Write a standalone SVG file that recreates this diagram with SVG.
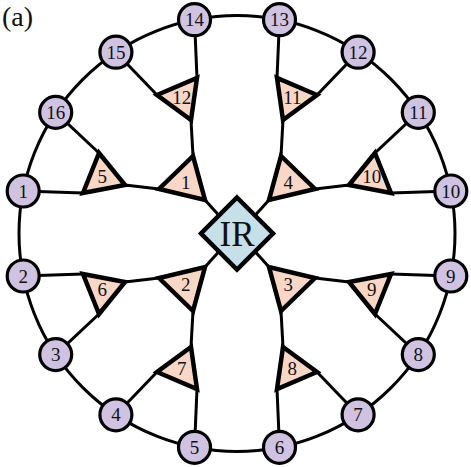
<svg xmlns="http://www.w3.org/2000/svg" width="471" height="467" viewBox="0 0 471 467">
<style>
.ln{stroke:#000;stroke-width:3;fill:none}
.nd circle{fill:#d0c3e2;stroke:#000;stroke-width:3.2}
.tr polygon{fill:#f8d7c7;stroke:#000;stroke-width:4.5;stroke-linejoin:miter}
.t{font-family:"Liberation Serif","Times New Roman",serif;font-size:19px;text-anchor:middle;fill:#111}
</style>
<rect width="471" height="467" fill="#fff"/>
<text x="2" y="26" style="font-family:'Liberation Serif',serif;font-size:28px;fill:#111">(a)</text>
<g id="connectors" class="ln">
<circle cx="237" cy="233.5" r="218"/>
<line x1="23.2" y1="191" x2="83" y2="193"/>
<line x1="125" y1="185" x2="159" y2="189"/>
<line x1="55.7" y1="112.4" x2="99" y2="153"/>
<line x1="115.9" y1="52.2" x2="157" y2="95"/>
<line x1="194.5" y1="19.7" x2="197" y2="78"/>
<line x1="191" y1="120" x2="193" y2="156"/>
<line x1="205" y1="200" x2="219" y2="215.5"/>
<line x1="450.8" y1="191" x2="391" y2="193"/>
<line x1="349" y1="185" x2="315" y2="189"/>
<line x1="418.3" y1="112.4" x2="375" y2="153"/>
<line x1="358.1" y1="52.2" x2="317" y2="95"/>
<line x1="279.5" y1="19.7" x2="277" y2="78"/>
<line x1="283" y1="120" x2="281" y2="156"/>
<line x1="269" y1="200" x2="255" y2="215.5"/>
<line x1="23.2" y1="276" x2="83" y2="274"/>
<line x1="125" y1="282" x2="159" y2="278"/>
<line x1="55.7" y1="354.6" x2="99" y2="314"/>
<line x1="115.9" y1="414.8" x2="157" y2="372"/>
<line x1="194.5" y1="447.3" x2="197" y2="389"/>
<line x1="191" y1="347" x2="193" y2="311"/>
<line x1="205" y1="267" x2="219" y2="251.5"/>
<line x1="450.8" y1="276" x2="391" y2="274"/>
<line x1="349" y1="282" x2="315" y2="278"/>
<line x1="418.3" y1="354.6" x2="375" y2="314"/>
<line x1="358.1" y1="414.8" x2="317" y2="372"/>
<line x1="279.5" y1="447.3" x2="277" y2="389"/>
<line x1="283" y1="347" x2="281" y2="311"/>
<line x1="269" y1="267" x2="255" y2="251.5"/>
</g>
<g id="IR">
<polygon points="237,197.5 273,233.5 237,269.5 201,233.5" fill="#c6dfe9" stroke="#000" stroke-width="4.5"/>
<text x="237" y="245.5" style="font-family:'Liberation Serif',serif;font-size:35px;text-anchor:middle;fill:#111">IR</text>
</g>
<g id="t1" class="tr"><polygon points="193,156 159,189 205,200"/><text class="t" x="185.7" y="188.5">1</text></g>
<g id="t5" class="tr"><polygon points="99,153 83,193 125,185"/><text class="t" x="102.3" y="183">5</text></g>
<g id="t12" class="tr"><polygon points="157,95 197,78 191,120"/><text class="t" x="181.7" y="104">12</text></g>
<g id="t4" class="tr"><polygon points="281,156 315,189 269,200"/><text class="t" x="288.3" y="188.5">4</text></g>
<g id="t10" class="tr"><polygon points="375,153 391,193 349,185"/><text class="t" x="371.7" y="183">10</text></g>
<g id="t11" class="tr"><polygon points="317,95 277,78 283,120"/><text class="t" x="292.3" y="104">11</text></g>
<g id="t2" class="tr"><polygon points="193,311 159,278 205,267"/><text class="t" x="185.7" y="291">2</text></g>
<g id="t6" class="tr"><polygon points="99,314 83,274 125,282"/><text class="t" x="102.3" y="296">6</text></g>
<g id="t7" class="tr"><polygon points="157,372 197,389 191,347"/><text class="t" x="181.7" y="375">7</text></g>
<g id="t3" class="tr"><polygon points="281,311 315,278 269,267"/><text class="t" x="288.3" y="291">3</text></g>
<g id="t9" class="tr"><polygon points="375,314 391,274 349,282"/><text class="t" x="371.7" y="296">9</text></g>
<g id="t8" class="tr"><polygon points="317,372 277,389 283,347"/><text class="t" x="292.3" y="375">8</text></g>
<g id="n1" class="nd"><circle cx="23.2" cy="191" r="16"/><text class="t" x="23.2" y="197.5">1</text></g>
<g id="n2" class="nd"><circle cx="23.2" cy="276" r="16"/><text class="t" x="23.2" y="282.5">2</text></g>
<g id="n3" class="nd"><circle cx="55.7" cy="354.6" r="16"/><text class="t" x="55.7" y="361.1">3</text></g>
<g id="n4" class="nd"><circle cx="115.9" cy="414.8" r="16"/><text class="t" x="115.9" y="421.3">4</text></g>
<g id="n5" class="nd"><circle cx="194.5" cy="447.3" r="16"/><text class="t" x="194.5" y="453.8">5</text></g>
<g id="n6" class="nd"><circle cx="279.5" cy="447.3" r="16"/><text class="t" x="279.5" y="453.8">6</text></g>
<g id="n7" class="nd"><circle cx="358.1" cy="414.8" r="16"/><text class="t" x="358.1" y="421.3">7</text></g>
<g id="n8" class="nd"><circle cx="418.3" cy="354.6" r="16"/><text class="t" x="418.3" y="361.1">8</text></g>
<g id="n9" class="nd"><circle cx="450.8" cy="276" r="16"/><text class="t" x="450.8" y="282.5">9</text></g>
<g id="n10" class="nd"><circle cx="450.8" cy="191" r="16"/><text class="t" x="450.8" y="197.5">10</text></g>
<g id="n11" class="nd"><circle cx="418.3" cy="112.4" r="16"/><text class="t" x="418.3" y="118.9">11</text></g>
<g id="n12" class="nd"><circle cx="358.1" cy="52.2" r="16"/><text class="t" x="358.1" y="58.7">12</text></g>
<g id="n13" class="nd"><circle cx="279.5" cy="19.7" r="16"/><text class="t" x="279.5" y="26.2">13</text></g>
<g id="n14" class="nd"><circle cx="194.5" cy="19.7" r="16"/><text class="t" x="194.5" y="26.2">14</text></g>
<g id="n15" class="nd"><circle cx="115.9" cy="52.2" r="16"/><text class="t" x="115.9" y="58.7">15</text></g>
<g id="n16" class="nd"><circle cx="55.7" cy="112.4" r="16"/><text class="t" x="55.7" y="118.9">16</text></g>
</svg>
